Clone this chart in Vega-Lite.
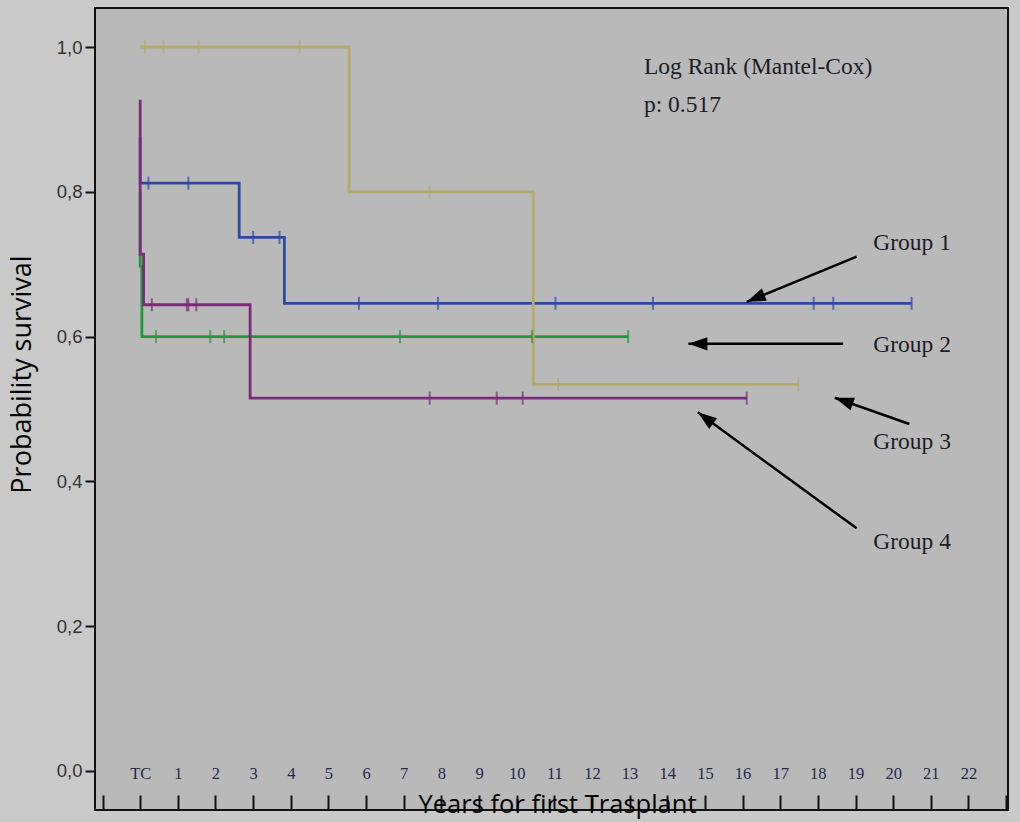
{
  "$schema": "https://vega.github.io/schema/vega-lite/v6.json",
  "width": 913,
  "height": 802,
  "autosize": {"type": "none"},
  "padding": {"left": 95, "top": 8, "right": 12, "bottom": 12},
  "background": "#c9c9c9",
  "config": {"view": {"fill": "#b9b9b9", "stroke": "#111111", "strokeWidth": 2}},
  "datasets": {
    "curves": [
      {"g": "Group 1", "o": 0, "x": 0, "y": 0.876},
      {"g": "Group 1", "o": 1, "x": 0, "y": 0.812},
      {"g": "Group 1", "o": 2, "x": 2.63, "y": 0.812},
      {"g": "Group 1", "o": 3, "x": 2.63, "y": 0.737},
      {"g": "Group 1", "o": 4, "x": 3.83, "y": 0.737},
      {"g": "Group 1", "o": 5, "x": 3.83, "y": 0.646},
      {"g": "Group 1", "o": 6, "x": 20.49, "y": 0.646},
      {"g": "Group 2", "o": 0, "x": 0, "y": 0.8},
      {"g": "Group 2", "o": 1, "x": 0, "y": 0.697},
      {"g": "Group 2", "o": 2, "x": 0.045, "y": 0.697},
      {"g": "Group 2", "o": 3, "x": 0.045, "y": 0.6},
      {"g": "Group 2", "o": 4, "x": 12.96, "y": 0.6},
      {"g": "Group 3", "o": 0, "x": 0, "y": 1.0},
      {"g": "Group 3", "o": 1, "x": 5.55, "y": 1.0},
      {"g": "Group 3", "o": 2, "x": 5.55, "y": 0.8},
      {"g": "Group 3", "o": 3, "x": 10.44, "y": 0.8},
      {"g": "Group 3", "o": 4, "x": 10.44, "y": 0.534},
      {"g": "Group 3", "o": 5, "x": 17.48, "y": 0.534},
      {"g": "Group 4", "o": 0, "x": 0, "y": 0.927},
      {"g": "Group 4", "o": 1, "x": 0, "y": 0.714},
      {"g": "Group 4", "o": 2, "x": 0.09, "y": 0.714},
      {"g": "Group 4", "o": 3, "x": 0.09, "y": 0.644},
      {"g": "Group 4", "o": 4, "x": 2.92, "y": 0.644},
      {"g": "Group 4", "o": 5, "x": 2.92, "y": 0.515},
      {"g": "Group 4", "o": 6, "x": 16.11, "y": 0.515}
    ],
    "censors": [
      {"g": "Group 1", "x": 0.22, "y": 0.812},
      {"g": "Group 1", "x": 1.28, "y": 0.812},
      {"g": "Group 1", "x": 3.0, "y": 0.737},
      {"g": "Group 1", "x": 3.7, "y": 0.737},
      {"g": "Group 1", "x": 5.81, "y": 0.646},
      {"g": "Group 1", "x": 7.91, "y": 0.646},
      {"g": "Group 1", "x": 11.03, "y": 0.646},
      {"g": "Group 1", "x": 13.62, "y": 0.646},
      {"g": "Group 1", "x": 17.89, "y": 0.646},
      {"g": "Group 1", "x": 18.41, "y": 0.646},
      {"g": "Group 1", "x": 20.49, "y": 0.646},
      {"g": "Group 2", "x": 0.42, "y": 0.6},
      {"g": "Group 2", "x": 1.86, "y": 0.6},
      {"g": "Group 2", "x": 2.23, "y": 0.6},
      {"g": "Group 2", "x": 6.9, "y": 0.6},
      {"g": "Group 2", "x": 10.41, "y": 0.6},
      {"g": "Group 2", "x": 12.96, "y": 0.6},
      {"g": "Group 3", "x": 0.13, "y": 1.0},
      {"g": "Group 3", "x": 0.62, "y": 1.0},
      {"g": "Group 3", "x": 1.55, "y": 1.0},
      {"g": "Group 3", "x": 4.24, "y": 1.0},
      {"g": "Group 3", "x": 7.69, "y": 0.8},
      {"g": "Group 3", "x": 11.1, "y": 0.534},
      {"g": "Group 3", "x": 17.48, "y": 0.534},
      {"g": "Group 4", "x": 0.31, "y": 0.644},
      {"g": "Group 4", "x": 1.24, "y": 0.644},
      {"g": "Group 4", "x": 1.28, "y": 0.644},
      {"g": "Group 4", "x": 1.49, "y": 0.644},
      {"g": "Group 4", "x": 7.69, "y": 0.515},
      {"g": "Group 4", "x": 9.47, "y": 0.515},
      {"g": "Group 4", "x": 10.16, "y": 0.515},
      {"g": "Group 4", "x": 16.11, "y": 0.515}
    ],
    "arrows": [
      {"g": "Group 1", "x": 16.11, "y": 0.648, "x2": 19.03, "y2": 0.7104},
      {"g": "Group 2", "x": 14.56, "y": 0.59, "x2": 18.67, "y2": 0.59},
      {"g": "Group 3", "x": 18.45, "y": 0.5156, "x2": 20.43, "y2": 0.4793},
      {"g": "Group 4", "x": 14.81, "y": 0.4954, "x2": 19.03, "y2": 0.3352}
    ],
    "labels": [
      {"x": 13.38, "y": 0.9724, "text": "Log Rank (Mantel-Cox)"},
      {"x": 13.38, "y": 0.92, "text": "p: 0.517"},
      {"x": 19.47, "y": 0.7289, "text": "Group 1"},
      {"x": 19.47, "y": 0.5884, "text": "Group 2"},
      {"x": 19.47, "y": 0.4549, "text": "Group 3"},
      {"x": 19.47, "y": 0.3167, "text": "Group 4"}
    ]
  },
  "encoding": {
    "x": {
      "field": "x",
      "type": "quantitative",
      "scale": {"domain": [-1.2, 23.05], "nice": false, "zero": false},
      "axis": {
        "title": "Years for first Trasplant",
        "values": [-1, 0, 1, 2, 3, 4, 5, 6, 7, 8, 9, 10, 11, 12, 13, 14, 15, 16, 17, 18, 19, 20, 21, 22, 23],
        "format": "d",
        "labelExpr": "datum.value < 0 || datum.value > 22 ? '' : (datum.value == 0 ? 'TC' : datum.label)",
        "domain": false,
        "grid": false,
        "tickColor": "#111111",
        "tickWidth": 2,
        "tickSize": -15,
        "labelPadding": -22,
        "labelBaseline": "middle",
        "labelFont": "Liberation Serif",
        "labelFontSize": 16.5,
        "labelColor": "#24284c",
        "labelFlush": false,
        "labelOverlap": false,
        "titleFont": "Open Sans",
        "titleFontSize": 25.5,
        "titleFontWeight": "normal",
        "titleColor": "#000000",
        "titleX": 462,
        "titleY": -6,
        "titleBaseline": "middle",
        "titleAlign": "center"
      }
    },
    "y": {
      "field": "y",
      "type": "quantitative",
      "scale": {"domain": [-0.0539, 1.0539], "nice": false, "zero": false},
      "axis": {
        "title": "Probability survival",
        "values": [0, 0.2, 0.4, 0.6, 0.8, 1],
        "format": ".1f",
        "labelExpr": "replace(datum.label, '.', ',')",
        "domain": false,
        "grid": false,
        "tickColor": "#111111",
        "tickWidth": 2,
        "tickSize": 10,
        "labelPadding": 3,
        "labelFont": "Liberation Sans",
        "labelFontSize": 18.5,
        "labelColor": "#333333",
        "titleFont": "Open Sans",
        "titleFontSize": 27,
        "titleFontWeight": "normal",
        "titleColor": "#000000",
        "titleAngle": -90,
        "titleX": -73,
        "titleY": 366,
        "titleBaseline": "middle",
        "titleAlign": "center"
      }
    }
  },
  "layer": [
    {
      "data": {"name": "curves"},
      "mark": {"type": "line", "strokeWidth": 2.8},
      "encoding": {
        "color": {
          "field": "g",
          "type": "nominal",
          "scale": {"domain": ["Group 3", "Group 4", "Group 2", "Group 1"], "range": ["#b4aa6a", "#7c2a7c", "#1f9a3a", "#2e4a9e"]},
          "legend": null
        },
        "detail": {"field": "g"},
        "order": {"field": "o", "type": "quantitative"}
      }
    },
    {
      "data": {"name": "censors"},
      "mark": {"type": "tick", "orient": "vertical", "size": 13, "thickness": 2},
      "encoding": {
        "color": {
          "field": "g",
          "type": "nominal",
          "scale": {"domain": ["Group 3", "Group 4", "Group 2", "Group 1"], "range": ["#b4aa6a", "#7c2a7c", "#1f9a3a", "#2e4a9e"]},
          "legend": null
        }
      }
    },
    {
      "data": {"name": "arrows"},
      "mark": {"type": "rule", "color": "#000000", "strokeWidth": 2.5},
      "encoding": {
        "x2": {"field": "x2"},
        "y2": {"field": "y2"}
      }
    },
    {
      "data": {"name": "arrows"},
      "transform": [{"filter": "datum.g == 'Group 1'"}],
      "mark": {"type": "point", "shape": "M0,0L-0.35,1L0.35,1Z", "filled": true, "color": "#000000", "opacity": 1, "size": 1444, "angle": 247.75}
    },
    {
      "data": {"name": "arrows"},
      "transform": [{"filter": "datum.g == 'Group 2'"}],
      "mark": {"type": "point", "shape": "M0,0L-0.35,1L0.35,1Z", "filled": true, "color": "#000000", "opacity": 1, "size": 1444, "angle": 270}
    },
    {
      "data": {"name": "arrows"},
      "transform": [{"filter": "datum.g == 'Group 3'"}],
      "mark": {"type": "point", "shape": "M0,0L-0.35,1L0.35,1Z", "filled": true, "color": "#000000", "opacity": 1, "size": 1444, "angle": 289.5}
    },
    {
      "data": {"name": "arrows"},
      "transform": [{"filter": "datum.g == 'Group 4'"}],
      "mark": {"type": "point", "shape": "M0,0L-0.35,1L0.35,1Z", "filled": true, "color": "#000000", "opacity": 1, "size": 1444, "angle": 306.1}
    },
    {
      "data": {"name": "labels"},
      "mark": {"type": "text", "align": "left", "baseline": "middle", "font": "Liberation Serif", "fontSize": 23.5, "color": "#1c1c28"},
      "encoding": {"text": {"field": "text"}}
    }
  ]
}
